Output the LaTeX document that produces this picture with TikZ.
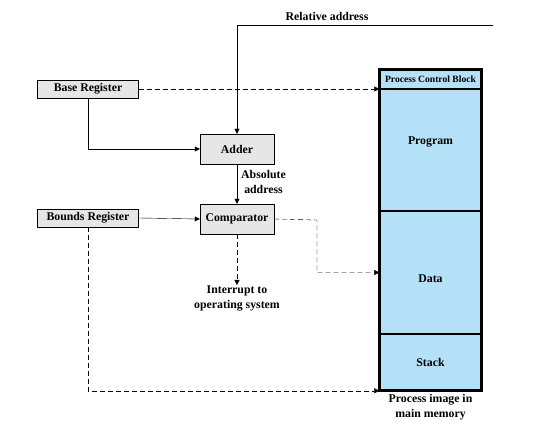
\documentclass[tikz,border=0pt]{standalone}
\usepackage{fontspec}
\setmainfont{Liberation Serif}
\usetikzlibrary{arrows.meta,positioning,calc}
\definecolor{boxgray}{RGB}{230,230,230}
\definecolor{memblue}{RGB}{180,224,248}

\begin{document}
\begin{tikzpicture}[x=1pt,y=-1pt,
    txt/.style={font=\bfseries\fontsize{11.8}{15}\selectfont},
    reg/.style={txt,draw,fill=boxgray,inner sep=0pt,minimum width=101pt,minimum height=18pt},
    unit/.style={txt,draw,fill=boxgray,inner sep=0pt,minimum width=74pt,minimum height=30pt},
    seg/.style={txt,draw,line width=1.5pt,fill=memblue,inner sep=0pt,minimum width=101pt},
    lbl/.style={txt,align=center,inner sep=1pt},
    arr/.style={-{Triangle[length=5pt,width=5pt]}},
    dsh/.style={arr,dash pattern=on 5pt off 3pt}]
  \useasboundingbox (0,0) rectangle (539,438);

  % registers and units
  \node[reg] (base) at (88,89) {Base Register};
  \node[reg] (bounds) at (88,218) {Bounds Register};
  \node[unit] (adder) at (237,149) {Adder};
  \node[unit] (comp) at (237,219) {Comparator};

  % process image
  \node[seg,minimum height=19pt,font=\bfseries\fontsize{9.6}{10}\selectfont] (pcb) at (430.5,79.5) {Process Control Block};
  \node[seg,minimum height=122pt,text depth=18pt] (prog) at (430.5,150) {Program};
  \node[seg,minimum height=123pt,text height=20pt] (data) at (430.5,272.5) {Data};
  \node[seg,minimum height=56pt] (stack) at (430.5,362) {Stack};
  \draw[line width=2.5pt] (pcb.north west) rectangle (stack.south east);

  % labels
  \node[lbl] (rel) at (327,16) {Relative address};
  \node[lbl,anchor=west] (abs) at (240,182) {Absolute\\address};
  \node[lbl,anchor=north] (intr) at (237,285) {Interrupt to\\operating system};
  \node[lbl,below=2pt of stack] (cap) {Process image in\\main memory};

  \coordinate (relend) at (493,25);
  \coordinate (bend) at (317,220);

  % connections
  \draw[arr] (relend) -- (relend -| adder) -- (adder.north);
  \draw[dsh] (base.east) -- (base.east -| pcb.west);
  \draw[arr] (base.south) |- (adder.west);
  \draw[arr] (adder.south) -- (comp.north);
  \draw[arr] (bounds.east) -- (comp.west);
  \draw[dsh] (comp.east) -- (bend) |- (data.west);
  \draw[dsh] (comp.south) -- (intr.north);
  \draw[dsh] (bounds.south) |- (stack.south west);
\end{tikzpicture}
\end{document}
